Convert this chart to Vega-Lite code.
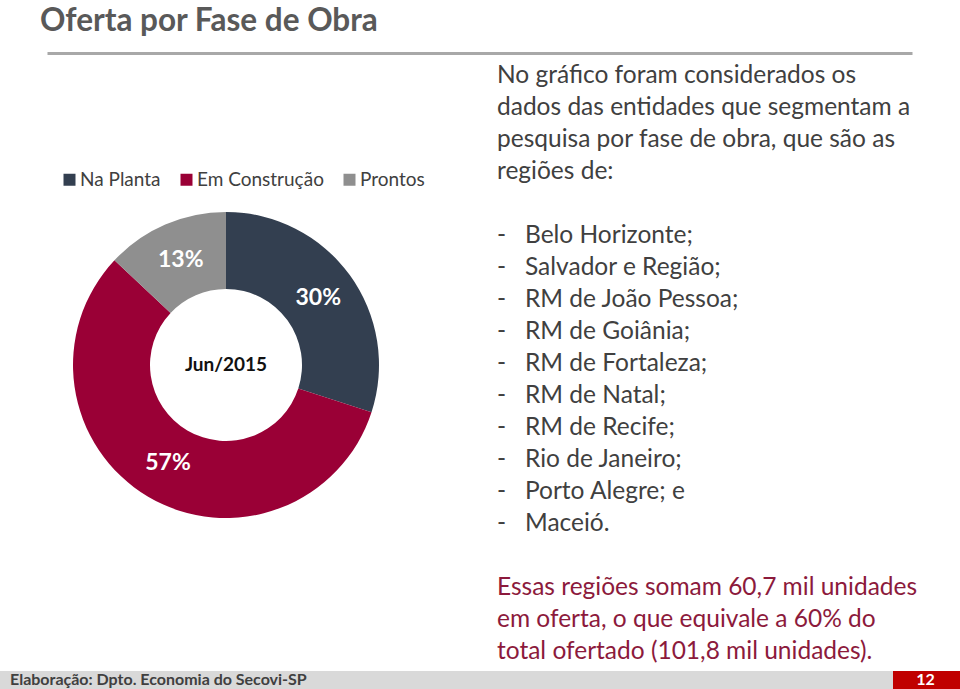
{
  "$schema": "https://vega.github.io/schema/vega-lite/v6.json",
  "padding": {"top": 6, "left": 0, "right": 0, "bottom": 0},
  "background": "white",
  "title": {"text": "Oferta por Fase de Obra", "anchor": "start", "dx": 40, "fontSize": 31.5, "font": "Lato", "fontWeight": "bold", "color": "#595959", "offset": 10, "baseline": "top", "frame": "bounds"},
  "config": {"view": {"stroke": null}, "font": "Lato"},
  "center": true,
  "spacing": 0,
  "datasets": {
    "fases": [
      {"fase": "Na Planta", "value": 30, "label": "30%", "ord": 1},
      {"fase": "Em Construção", "value": 57, "label": "57%", "ord": 2},
      {"fase": "Prontos", "value": 13, "label": "13%", "ord": 3}
    ],
    "linhas": [
      {"line": 0, "group": "p1", "text": "No gráfico  foram considerados os"},
      {"line": 1, "group": "p1", "text": "dados das entidades que segmentam a"},
      {"line": 2, "group": "p1", "text": "pesquisa por fase de obra, que são as"},
      {"line": 3, "group": "p1", "text": "regiões de:"},
      {"line": 5, "group": "list", "text": "Belo Horizonte;"},
      {"line": 6, "group": "list", "text": "Salvador e Região;"},
      {"line": 7, "group": "list", "text": "RM de João Pessoa;"},
      {"line": 8, "group": "list", "text": "RM de Goiânia;"},
      {"line": 9, "group": "list", "text": "RM de Fortaleza;"},
      {"line": 10, "group": "list", "text": "RM de Natal;"},
      {"line": 11, "group": "list", "text": "RM de Recife;"},
      {"line": 12, "group": "list", "text": "Rio de Janeiro;"},
      {"line": 13, "group": "list", "text": "Porto Alegre; e"},
      {"line": 14, "group": "list", "text": "Maceió."},
      {"line": 16, "group": "p2", "text": "Essas regiões somam 60,7 mil unidades"},
      {"line": 17, "group": "p2", "text": "em oferta, o que equivale a 60% do"},
      {"line": 18, "group": "p2", "text": "total ofertado (101,8 mil unidades)."}
    ]
  },
  "vconcat": [
    {
      "width": 865,
      "height": 3,
      "view": {"fill": "#a8a8a8", "stroke": null},
      "data": {"values": [{}]},
      "mark": {"type": "text"},
      "encoding": {}
    },
    {
      "spacing": 45,
      "hconcat": [
        {
          "width": 452,
          "height": 612,
          "data": {"name": "fases"},
          "layer": [
            {
              "mark": {"type": "arc", "innerRadius": 76, "outerRadius": 153},
              "encoding": {
                "theta": {"field": "value", "type": "quantitative", "stack": true},
                "order": {"field": "ord", "type": "quantitative"},
                "color": {
                  "field": "fase", "type": "nominal",
                  "scale": {"domain": ["Na Planta", "Em Construção", "Prontos"], "range": ["#333f50", "#9a0036", "#8f8f8f"]},
                  "legend": {"orient": "none", "legendX": 60, "legendY": 118, "direction": "horizontal", "title": null, "symbolType": "square", "symbolSize": 144, "symbolStrokeWidth": 0, "labelFontSize": 19, "labelFont": "Lato", "labelColor": "#404040", "columnPadding": 16, "labelOffset": 1}
                }
              }
            },
            {
              "mark": {"type": "text", "radius": 114, "fontSize": 23, "fontWeight": "bold", "fill": "white", "font": "Lato"},
              "encoding": {
                "theta": {"field": "value", "type": "quantitative", "stack": true},
                "order": {"field": "ord", "type": "quantitative"},
                "text": {"field": "label", "type": "nominal"}
              }
            },
            {
              "data": {"values": [{"t": "Jun/2015"}]},
              "mark": {"type": "text", "fontSize": 19, "fontWeight": "bold", "fill": "#111111", "font": "Lato"},
              "encoding": {"text": {"field": "t", "type": "nominal"}}
            }
          ]
        },
        {
          "width": 463,
          "height": 612,
          "data": {"name": "linhas"},
          "encoding": {
            "y": {"field": "line", "type": "quantitative", "scale": {"domain": [-0.53125, 18.59375], "reverse": true, "nice": false, "zero": false}, "axis": null},
            "x": {"datum": 0, "type": "quantitative", "scale": {"domain": [0, 1]}, "axis": null},
            "text": {"field": "text", "type": "nominal"}
          },
          "layer": [
            {
              "transform": [{"filter": "datum.group == 'p1'"}],
              "mark": {"type": "text", "align": "left", "baseline": "middle", "fontSize": 24.5, "font": "Lato", "fill": "#404040"}
            },
            {
              "transform": [{"filter": "datum.group == 'list'"}],
              "mark": {"type": "text", "align": "left", "baseline": "middle", "fontSize": 24.5, "font": "Lato", "fill": "#404040", "dx": 28}
            },
            {
              "transform": [{"filter": "datum.group == 'list'"}],
              "mark": {"type": "text", "align": "left", "baseline": "middle", "fontSize": 24.5, "font": "Lato", "fill": "#404040"},
              "encoding": {"text": {"value": "-"}}
            },
            {
              "transform": [{"filter": "datum.group == 'p2'"}],
              "mark": {"type": "text", "align": "left", "baseline": "middle", "fontSize": 24.5, "font": "Lato", "fill": "#8c1a3c"}
            }
          ]
        }
      ]
    },
    {
      "spacing": 0,
      "hconcat": [
        {
          "width": 893,
          "height": 18,
          "view": {"fill": "#d9d9d9", "stroke": null},
          "data": {"values": [{"src": "Elaboração: Dpto. Economia do  Secovi-SP"}]},
          "mark": {"type": "text", "align": "left", "baseline": "middle", "dx": 10, "fontSize": 16, "fontWeight": "bold", "font": "Lato", "fill": "#404040"},
          "encoding": {
            "x": {"datum": 0, "type": "quantitative", "scale": {"domain": [0, 1]}, "axis": null},
            "text": {"field": "src", "type": "nominal"}
          }
        },
        {
          "width": 67,
          "height": 18,
          "view": {"fill": "#c00000", "stroke": null},
          "data": {"values": [{"page": "12"}]},
          "mark": {"type": "text", "align": "center", "baseline": "middle", "dx": -1, "fontSize": 16, "fontWeight": "bold", "font": "Lato", "fill": "white"},
          "encoding": {"text": {"field": "page", "type": "nominal"}}
        }
      ]
    }
  ]
}
